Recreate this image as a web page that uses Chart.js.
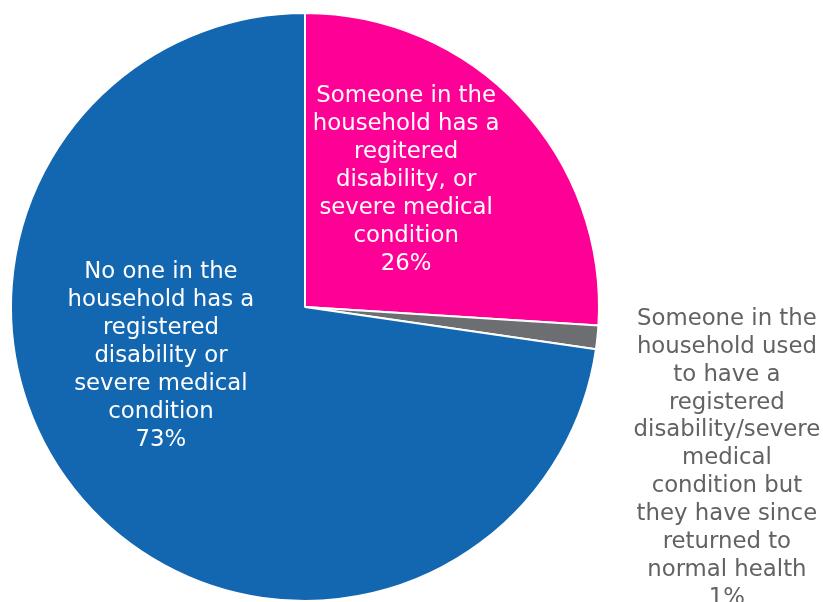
<!DOCTYPE html>
<html>
<head>
<meta charset="utf-8">
<script src="https://cdn.jsdelivr.net/npm/chart.js@4"></script>
<style>
  html, body { margin: 0; padding: 0; background: #fff; }
  #wrap { width: 823px; height: 602px; position: relative; }
</style>
</head>
<body>
<div id="wrap"><canvas id="pie"></canvas></div>
<script>
// données
const categories = [
  "Someone in the\nhousehold has a\nregitered\ndisability, or\nsevere medical\ncondition",
  "Someone in the\nhousehold used\nto have a\nregistered\ndisability/severe\nmedical\ncondition but\nthey have since\nreturned to\nnormal health",
  "No one in the\nhousehold has a\nregistered\ndisability or\nsevere medical\ncondition"
];
const shares = [26.0, 1.3, 72.7];
const shareLabels = ["26%", "1%", "73%"];
const sliceColors = ["#FF0096", "#6D6E71", "#1366B0"];

// où poser chaque étiquette, en fraction du rayon par rapport au centre
const labelAnchors = [[0.344, -0.432], [1.435, 0.515], [-0.49, 0.167]];
const labelColors = ["#ffffff", "#626262", "#ffffff"];

const FONT = '22.8px "DejaVu Sans", Verdana, sans-serif';
const LINE_H = 27.9;

const sliceLabels = {
  id: "sliceLabels",
  afterDatasetsDraw(chart) {
    const { ctx } = chart;
    const arcs = chart.getDatasetMeta(0).data;
    ctx.save();
    ctx.font = FONT;
    ctx.textAlign = "center";
    ctx.textBaseline = "middle";
    arcs.forEach((arc, i) => {
      const lines = categories[i].split("\n").concat(shareLabels[i]);
      const cx = arc.x + labelAnchors[i][0] * arc.outerRadius;
      const cy = arc.y + labelAnchors[i][1] * arc.outerRadius;
      const top = cy - (lines.length - 1) * LINE_H / 2;
      ctx.fillStyle = labelColors[i];
      lines.forEach((l, k) => ctx.fillText(l, cx, top + k * LINE_H));
    });
    ctx.restore();
  }
};

new Chart(document.getElementById("pie"), {
  type: "pie",
  data: {
    labels: categories,
    datasets: [{
      data: shares,
      backgroundColor: sliceColors,
      borderColor: "#ffffff",
      borderWidth: 2
    }]
  },
  options: {
    responsive: true,
    maintainAspectRatio: false,
    animation: false,
    layout: { padding: { left: 10, top: 12, right: 223, bottom: 0 } },
    plugins: {
      legend: { display: false },
      tooltip: { enabled: false }
    }
  },
  plugins: [sliceLabels]
});
</script>
</body>
</html>
